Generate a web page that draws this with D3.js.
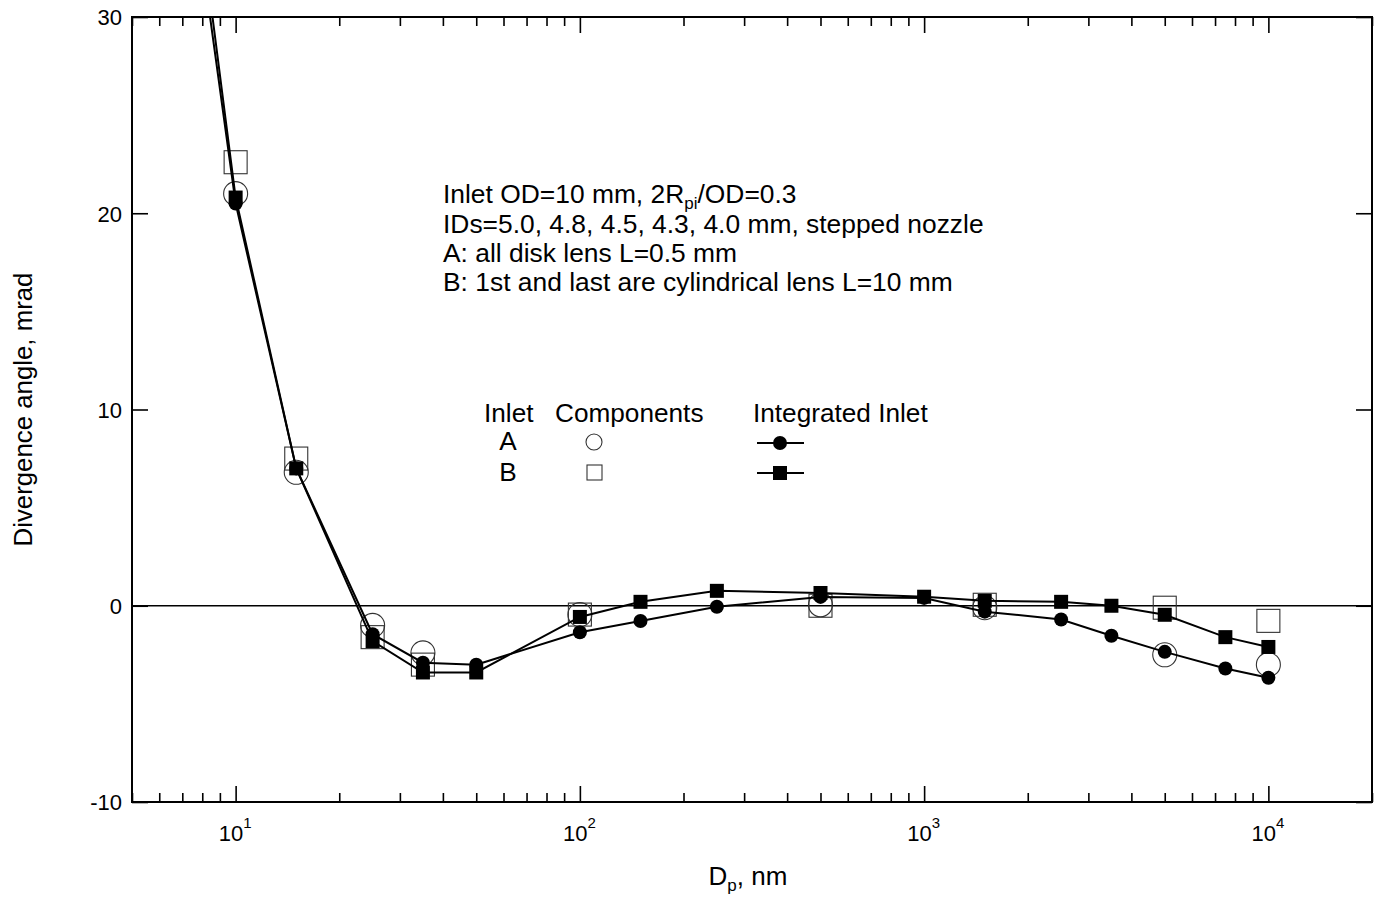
<!DOCTYPE html>
<html>
<head>
<meta charset="utf-8">
<script src="https://cdn.jsdelivr.net/npm/d3@7"></script>
<style>
  body { margin: 0; background: #fff; }
  svg { font-family: "Liberation Sans", Arial, sans-serif; }
  .axis path { display: none; }
  .axis line { stroke: #000; stroke-width: 1.6px; }
  .axis text { font-size: 22px; fill: #000; font-family: "Liberation Sans", Arial, sans-serif; }
</style>
</head>
<body>
<svg id="chart" width="1374" height="897"></svg>
<script>
// particle diameters (nm) for the integrated inlet calculations
var sizes = [5, 10, 15, 25, 35, 50, 100, 150, 250, 500, 1000, 1500, 2500, 3500, 5000, 7500, 10000];
var integratedA = [59, 20.5, 7.0, -1.45, -2.9, -3.0, -1.35, -0.78, -0.05, 0.45, 0.4, -0.3, -0.7, -1.53, -2.35, -3.2, -3.67];
var integratedB = [62, 20.8, 7.0, -1.8, -3.4, -3.4, -0.57, 0.2, 0.76, 0.65, 0.46, 0.25, 0.2, 0.0, -0.46, -1.6, -2.1];

// component calculations
var compSizes = [10, 15, 25, 35, 100, 500, 1500, 5000, 10000];
var componentsA = [21.0, 6.8, -1.0, -2.4, -0.45, 0.05, -0.1, -2.5, -3.0];
var componentsB = [22.6, 7.5, -1.6, -3.0, -0.45, 0.0, 0.05, -0.1, -0.77];

var xMajor = [10, 100, 1000, 10000];
var xMinor = [5, 6, 7, 8, 9, 20, 30, 40, 50, 60, 70, 80, 90, 200, 300, 400, 500, 600, 700, 800, 900,
              2000, 3000, 4000, 5000, 6000, 7000, 8000, 9000, 20000];
var yTicks = [-10, 0, 10, 20, 30];

var notes = [
    ['Inlet OD=10 mm, 2R', 'pi', '/OD=0.3'],
    ['IDs=5.0, 4.8, 4.5, 4.3, 4.0 mm, stepped nozzle'],
    ['A: all disk lens L=0.5 mm'],
    ['B: 1st and last are cylindrical lens L=10 mm']
];

(function () {
    var svg = d3.select('#chart');
    var pL = 132, pR = 1372, pT = 17, pB = 802;

    var x = d3.scaleLog().domain([5, 20000]).range([pL, pR]);
    var y = d3.scaleLinear().domain([-10, 30]).range([pB, pT]);

    svg.append('defs').append('clipPath').attr('id', 'plotclip')
        .append('rect')
        .attr('x', pL).attr('y', pT)
        .attr('width', pR - pL).attr('height', pB - pT);

    // axes: ticks point inward on all four sides
    svg.append('g').attr('class', 'axis').attr('transform', 'translate(0,' + pB + ')')
        .call(d3.axisBottom(x).tickValues(xMinor).tickSize(-9).tickFormat(''));
    var gBottomMaj = svg.append('g').attr('class', 'axis').attr('transform', 'translate(0,' + pB + ')');
    gBottomMaj.call(d3.axisBottom(x).tickValues(xMajor).tickSize(-16).tickFormat(''));

    gBottomMaj.selectAll('.tick text').remove();
    gBottomMaj.selectAll('.tick').append('text')
        .attr('y', 39)
        .attr('x', -1)
        .attr('text-anchor', 'middle')
        .each(function (d) {
            var t = d3.select(this);
            t.append('tspan').text('10');
            t.append('tspan').attr('dy', -13).style('font-size', '15px').text(Math.round(Math.log10(d)));
        });

    svg.append('g').attr('class', 'axis').attr('transform', 'translate(0,' + pT + ')')
        .call(d3.axisTop(x).tickValues(xMinor).tickSize(-9).tickFormat(''));
    svg.append('g').attr('class', 'axis').attr('transform', 'translate(0,' + pT + ')')
        .call(d3.axisTop(x).tickValues(xMajor).tickSize(-16).tickFormat(''));

    var gLeft = svg.append('g').attr('class', 'axis').attr('transform', 'translate(' + pL + ',0)');
    gLeft.call(d3.axisLeft(y).tickValues(yTicks).tickSize(-16).tickFormat(function (d) { return String(d); }));
    gLeft.selectAll('text').attr('x', -10).attr('dy', '0.36em');

    svg.append('g').attr('class', 'axis').attr('transform', 'translate(' + pR + ',0)')
        .call(d3.axisRight(y).tickValues(yTicks).tickSize(-16).tickFormat(''));

    // frame
    svg.append('rect')
        .attr('x', pL).attr('y', pT)
        .attr('width', pR - pL).attr('height', pB - pT)
        .attr('fill', 'none').attr('stroke', '#000').attr('stroke-width', 2);

    // zero line
    svg.append('line')
        .attr('x1', pL).attr('x2', pR)
        .attr('y1', y(0)).attr('y2', y(0))
        .attr('stroke', '#000').attr('stroke-width', 1.6);

    // axis titles
    svg.append('text')
        .attr('transform', 'translate(32,' + ((pT + pB) / 2) + ') rotate(-90)')
        .attr('text-anchor', 'middle')
        .style('font-size', '25.8px')
        .text('Divergence angle, mrad');

    var xt = svg.append('text')
        .attr('x', 748).attr('y', 885)
        .attr('text-anchor', 'middle')
        .style('font-size', '26px');
    xt.append('tspan').text('D');
    xt.append('tspan').attr('dy', 6).style('font-size', '17px').text('p');
    xt.append('tspan').attr('dy', -6).text(', nm');

    var plot = svg.append('g').attr('clip-path', 'url(#plotclip)');

    // component markers (open)
    var compA = compSizes.map(function (d, i) { return {x: d, y: componentsA[i]}; });
    var compB = compSizes.map(function (d, i) { return {x: d, y: componentsB[i]}; });

    plot.selectAll('circle.compA').data(compA).enter().append('circle')
        .attr('class', 'compA')
        .attr('cx', function (d) { return x(d.x); })
        .attr('cy', function (d) { return y(d.y); })
        .attr('r', 12)
        .attr('fill', 'none').attr('stroke', '#333').attr('stroke-width', 1.1);

    plot.selectAll('rect.compB').data(compB).enter().append('rect')
        .attr('class', 'compB')
        .attr('x', function (d) { return x(d.x) - 11.5; })
        .attr('y', function (d) { return y(d.y) - 11.5; })
        .attr('width', 23).attr('height', 23)
        .attr('fill', 'none').attr('stroke', '#333').attr('stroke-width', 1.1);

    // integrated inlet lines + filled markers
    var intA = sizes.map(function (d, i) { return {x: d, y: integratedA[i]}; });
    var intB = sizes.map(function (d, i) { return {x: d, y: integratedB[i]}; });

    var line = d3.line()
        .x(function (d) { return x(d.x); })
        .y(function (d) { return y(d.y); });

    [intA, intB].forEach(function (s) {
        plot.append('path').datum(s)
            .attr('d', line)
            .attr('fill', 'none').attr('stroke', '#000').attr('stroke-width', 2);
    });

    plot.selectAll('rect.intB').data(intB.slice(1)).enter().append('rect')
        .attr('class', 'intB')
        .attr('x', function (d) { return x(d.x) - 7; })
        .attr('y', function (d) { return y(d.y) - 7; })
        .attr('width', 14).attr('height', 14)
        .attr('fill', '#000');

    plot.selectAll('circle.intA').data(intA.slice(1)).enter().append('circle')
        .attr('class', 'intA')
        .attr('cx', function (d) { return x(d.x); })
        .attr('cy', function (d) { return y(d.y); })
        .attr('r', 7)
        .attr('fill', '#000');

    // annotation block
    var lineY = [203, 233, 262, 291];
    notes.forEach(function (parts, i) {
        var t = svg.append('text').attr('x', 443).attr('y', lineY[i]).style('font-size', '26.4px');
        t.append('tspan').text(parts[0]);
        if (parts.length > 1) {
            t.append('tspan').attr('dy', 6).style('font-size', '17px').text(parts[1]);
            t.append('tspan').attr('dy', -6).text(parts[2]);
        }
    });

    // legend
    var lg = svg.append('g').style('font-size', '26.2px');
    lg.append('text').attr('x', 484).attr('y', 422).text('Inlet');
    lg.append('text').attr('x', 555).attr('y', 422).text('Components');
    lg.append('text').attr('x', 753).attr('y', 422).text('Integrated Inlet');
    lg.append('text').attr('x', 508).attr('y', 450).attr('text-anchor', 'middle').text('A');
    lg.append('text').attr('x', 508).attr('y', 481).attr('text-anchor', 'middle').text('B');
    lg.append('circle').attr('cx', 594).attr('cy', 442).attr('r', 8)
        .attr('fill', 'none').attr('stroke', '#333').attr('stroke-width', 1.1);
    lg.append('rect').attr('x', 587).attr('y', 465).attr('width', 15).attr('height', 15)
        .attr('fill', 'none').attr('stroke', '#333').attr('stroke-width', 1.1);
    lg.append('line').attr('x1', 757).attr('x2', 804).attr('y1', 443).attr('y2', 443)
        .attr('stroke', '#000').attr('stroke-width', 2);
    lg.append('circle').attr('cx', 780).attr('cy', 443).attr('r', 7).attr('fill', '#000');
    lg.append('line').attr('x1', 757).attr('x2', 804).attr('y1', 473).attr('y2', 473)
        .attr('stroke', '#000').attr('stroke-width', 2);
    lg.append('rect').attr('x', 773).attr('y', 466).attr('width', 14).attr('height', 14).attr('fill', '#000');
})();
</script>
</body>
</html>
